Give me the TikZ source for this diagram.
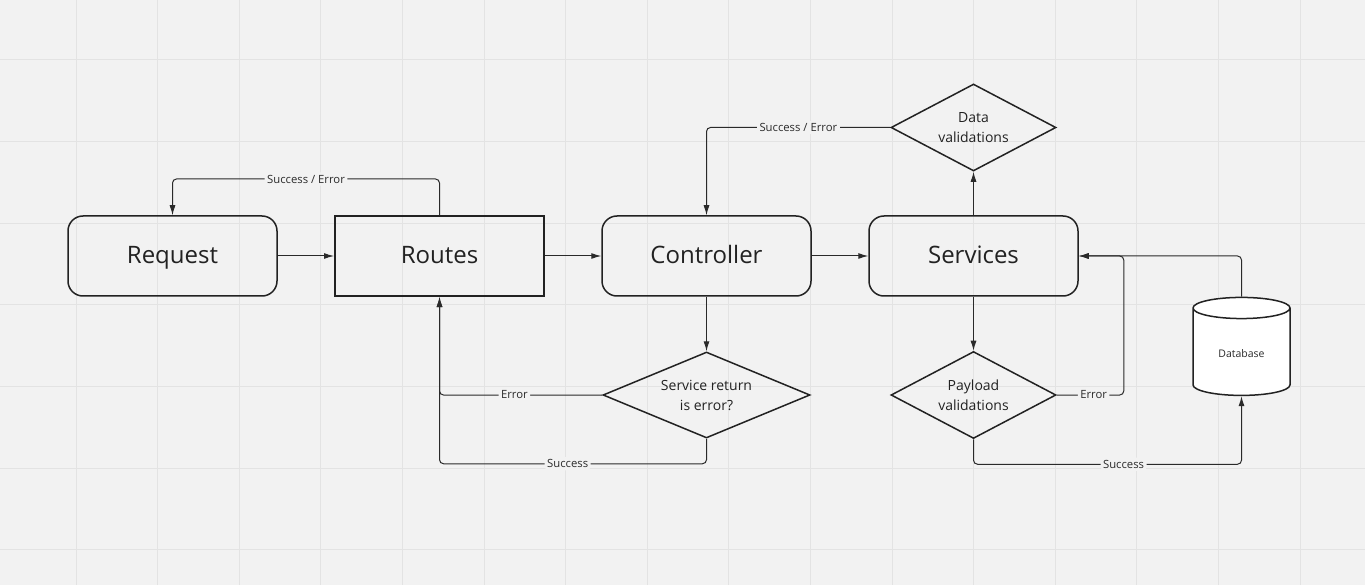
\documentclass[tikz,border=0pt]{standalone}
\usepackage{fontspec}
\setmainfont{Open Sans}
\usetikzlibrary{shapes.geometric,arrows.meta,positioning,calc}
\definecolor{canvasgray}{HTML}{F2F2F2}
\definecolor{gridgray}{HTML}{E3E3E3}
\definecolor{inkdark}{HTML}{222222}
\definecolor{linegray}{HTML}{2A2A2A}

\begin{document}
\begin{tikzpicture}[
  x=1pt,y=-1pt,
  stage/.style={rectangle,draw=inkdark,line width=1.5pt,rounded corners=15pt,minimum width=209pt,minimum height=80pt,text height=19pt,text depth=3pt,font=\fontsize{24}{28}\selectfont,text=inkdark},
  plainbox/.style={stage,rounded corners=0pt,line width=2pt},
  check/.style={diamond,draw=inkdark,line width=1.5pt,inner sep=0pt,aspect=1.9,minimum width=165pt,minimum height=87pt,align=center,font=\fontsize{14}{20}\selectfont,text=inkdark},
  store/.style={cylinder,shape border rotate=90,draw=inkdark,line width=1.5pt,fill=white,aspect=0.4,minimum width=97pt,minimum height=98pt,font=\fontsize{10.5}{12}\selectfont,text=linegray},
  conn/.style={draw=linegray,line width=1pt,rounded corners=4pt},
  arr/.style={conn,-{Latex[length=10pt,width=6pt]}},
  lbl/.style={fill=canvasgray,inner sep=2.5pt,font=\fontsize{11.3}{13}\selectfont,text=linegray}
]
\useasboundingbox (0,0) rectangle (1365,585);
\fill[canvasgray] (0,0) rectangle (1365,585);
% grid
\foreach \gx in {0,...,15}
  \draw[gridgray,line width=1pt] ({76+81.6*\gx},0) -- ({76+81.6*\gx},585);
\foreach \gy in {0,...,6}
  \draw[gridgray,line width=1pt] (0,{60+81.6*\gy}) -- (1365,{60+81.6*\gy});

% main row
\node[stage] (request) at (172.5,256) {Request};
\node[plainbox] (routes) at (439.5,256) {Routes};
\node[stage] (controller) at (706.5,256) {Controller};
\node[stage] (services) at (973.5,256) {Services};

% checks and store
\node[check] (datacheck) at (973.5,127.5) {Data\\validations};
\node[check,aspect=2.4,minimum width=207pt,minimum height=86pt] (errcheck) at (706.5,395) {Service return\\is error?};
\node[check] (payload) at (973.5,395) {Payload\\validations};
\node[store] (db) at (1241.5,354) {Database};

% flow
\draw[arr] (request) -- (routes);
\draw[arr] (routes) -- (controller);
\draw[arr] (controller) -- (services);
\draw[arr] (services) -- (datacheck);
\draw[arr] (controller) -- (errcheck);
\draw[arr] (services) -- (payload);

% returns
\draw[arr] (routes.north) -- ++(0,-36) -| node[lbl,pos=0.25]{Success / Error} (request.north);
\draw[arr] (datacheck.west) -| node[lbl,pos=0.25]{Success / Error} (controller.north);
\draw[arr] (errcheck.west) -| node[lbl,pos=0.27]{Error} (routes.south);
\draw[arr] (errcheck.south) -- ++(0,25) -| node[lbl,pos=0.26]{Success} (routes.south);
\draw[arr] (payload.east) -- node[lbl,pos=0.55]{Error} ++(67,0) |- (services.east);
\draw[arr] (payload.south) -- ++(0,25) -| node[lbl,pos=0.28]{Success} (db.bottom);
\draw[arr] (db.top) |- (services.east);
\end{tikzpicture}
\end{document}
